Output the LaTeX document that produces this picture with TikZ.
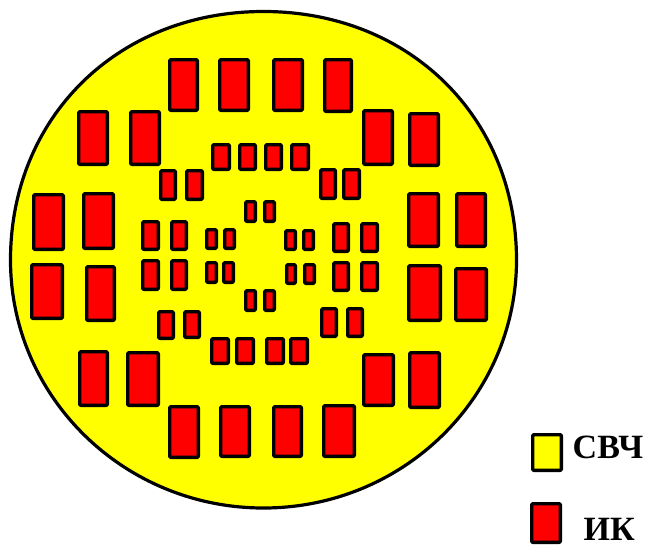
\documentclass[tikz,border=0pt]{standalone}
\usepackage{fontspec}
\setmainfont{Liberation Serif}
\definecolor{waferyellow}{RGB}{255,255,0}
\definecolor{cellred}{RGB}{255,0,0}
\tikzset{
  wafer/.style={draw=black,fill=waferyellow,line width=3.2pt},
  cell/.style={draw=black,fill=cellred,line width=3.4pt,rounded corners=1pt,line join=round},
  swatch/.style={draw=black,line width=3.4pt,rounded corners=1pt,line join=round},
  legendtext/.style={font=\bfseries\fontsize{34}{34}\selectfont,text=black,inner sep=0pt,anchor=base west}
}
\begin{document}
\begin{tikzpicture}[x=1pt,y=-1pt]
\useasboundingbox (0,0) rectangle (647,544);
\draw[wafer] (10.5,260)
  .. controls (10.5,117) and (118,11.5) .. (263.5,11.5)
  .. controls (409,11.5) and (516.5,117) .. (516.5,260)
  .. controls (516.5,397) and (403.2,508) .. (263.5,508)
  .. controls (123.8,508) and (10.5,397) .. (10.5,260) -- cycle;
\foreach \a/\b/\c/\d in {
168/58/199/112,218/58/250/112,272/58/304/112,323/58/353/113,
77/110/109/166,129/110/161/166,362/109/394/166,408/112/440/167,
211/143/231/171,238/143/257/171,264/143/283/171,290/143/310/171,
159/169/177/201,185/169/204/201,319/168/337/200,342/168/361/200,
32/193/65/251,82/192/115/250,407/192/440/248,455/192/487/248,
141/220/160/251,170/220/188/251,332/222/350/253,360/222/379/253,
205/228/218/250,223/228/236/250,284/229/297/251,302/229/315/251,
244/200/257/223,263/200/276/223,
30/263/64/320,85/265/116/322,407/264/442/322,454/267/488/322,
141/259/160/291,170/259/188/291,332/261/350/292,360/261/379/292,
205/261/218/284,222/261/235/284,285/263/297/285,303/263/316/285,
244/289/257/312,263/289/276/312,
157/310/175/340,183/310/201/339,320/307/338/338,346/307/364/338,
210/337/230/365,235/337/255/365,265/337/285/365,289/337/309/365,
78/350/109/407,126/351/160/407,362/353/395/407,408/351/441/409,
168/405/200/459,219/405/251/458,272/405/303/458,322/404/356/458}
{
  \draw[cell] (\a+1.7,\b+1.7) rectangle (\c-1.7,\d-1.7);
}
\draw[swatch,fill=waferyellow] (532.7,434.7) rectangle (561.3,470.3);
\draw[swatch,fill=cellred] (531.7,503.7) rectangle (560.3,542.3);
\node[legendtext] (svch) at (572.5,458.5) {СВЧ};
\node[legendtext] (ik) at (583.5,540.5) {ИК};
\end{tikzpicture}
\end{document}
